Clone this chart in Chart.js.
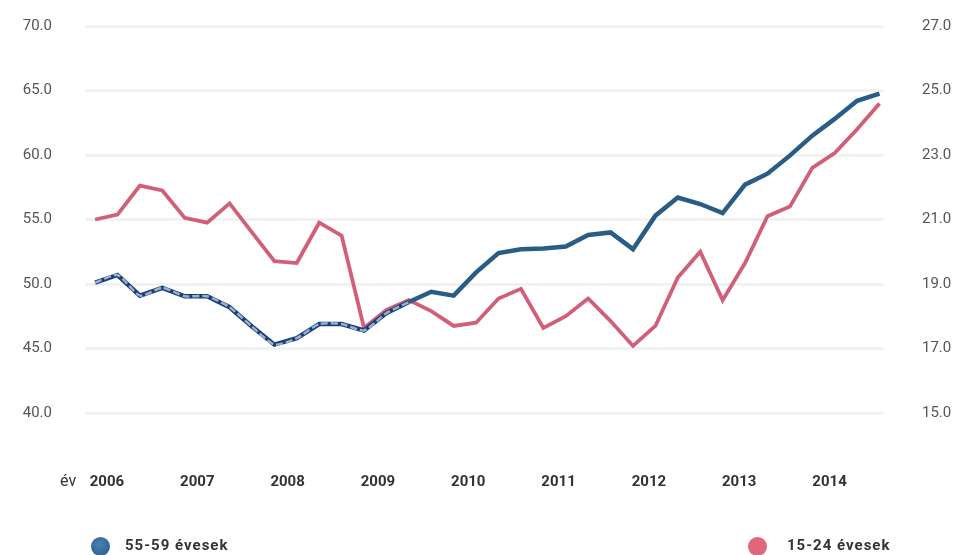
<!DOCTYPE html>
<html><head><meta charset="utf-8">
<script src="https://cdn.jsdelivr.net/npm/chart.js@4.4.1/dist/chart.umd.min.js"></script>
<style>
html,body{margin:0;padding:0;background:#fff;}
#wrap{position:relative;width:960px;height:555px;overflow:hidden;background:#fff;}
canvas{position:absolute;left:0;top:0;}
.lab{position:absolute;font-family:Roboto,'Liberation Sans',sans-serif;color:#333;white-space:nowrap;line-height:1;}
.dot{position:absolute;width:19px;height:19px;border-radius:50%;}
</style></head><body>
<div id="wrap">
<canvas id="c" width="960" height="555"></canvas>
<div class="lab" style="left:60px;top:473px;font-size:16px;">év</div>
<div class="dot" style="left:91px;top:537px;background:radial-gradient(circle at 45% 40%,#4a7fae,#245a8a);"></div>
<div class="lab" id="leg1" style="left:125px;top:538px;font-size:15px;font-weight:700;letter-spacing:1px;">55-59 évesek</div>
<div class="dot" style="left:748px;top:537px;background:#e0667c;"></div>
<div class="lab" id="leg2" style="left:787px;top:538px;font-size:15px;font-weight:700;letter-spacing:1px;">15-24 évesek</div>
</div>
<script>
// Quarterly data, 2006 Q1 .. 2014 Q4
const quarters = ["2006Q1","2006Q2","2006Q3","2006Q4","2007Q1","2007Q2","2007Q3","2007Q4","2008Q1","2008Q2","2008Q3","2008Q4","2009Q1","2009Q2","2009Q3","2009Q4","2010Q1","2010Q2","2010Q3","2010Q4","2011Q1","2011Q2","2011Q3","2011Q4","2012Q1","2012Q2","2012Q3","2012Q4","2013Q1","2013Q2","2013Q3","2013Q4","2014Q1","2014Q2","2014Q3","2014Q4"];
const age5559 = [50.1,50.7,49.1,49.7,49.05,49.05,48.2,46.7,45.3,45.8,46.9,46.9,46.4,47.75,48.6,49.4,49.1,50.9,52.4,52.7,52.75,52.9,53.8,54.0,52.7,55.3,56.7,56.2,55.5,57.7,58.55,59.95,61.5,62.8,64.2,64.75];
const age1524 = [21.0,21.15,22.05,21.9,21.05,20.9,21.5,20.6,19.71,19.65,20.9,20.5,17.64,18.2,18.5,18.16,17.7,17.8,18.55,18.85,17.64,18.0,18.55,17.85,17.08,17.7,19.2,20.0,18.5,19.65,21.1,21.4,22.6,23.06,23.8,24.6];
const yearLabels = ["2006","2007","2008","2009","2010","2011","2012","2013","2014"];
const leftTicks = [40,45,50,55,60,65,70];
const rightTicks = [15,17,19,21,23,25,27];
const dashedCount = 15;

const toXY = arr => arr.map((v,i)=>({x:i,y:v}));
const yearTickPos = yearLabels.map((_,k)=>k*4.03+0.53);

const tickFont = {family:"Roboto,sans-serif", size:15};
const yearFont = {family:"Roboto,sans-serif", size:15, weight:'bold'};

new Chart(document.getElementById('c'), {
  type:'line',
  data:{
    datasets:[
      {label:'overlay', data:toXY(age5559.slice(0,dashedCount)), yAxisID:'y', borderColor:'#a3afba', borderWidth:2.5, borderDash:[7,3], pointRadius:0, tension:0.2, fill:false},
      {label:'55-59 évesek', data:toXY(age5559), yAxisID:'y', borderColor:'#2a5d86', borderWidth:4.5, pointRadius:0, tension:0, fill:false,
        segment:{borderColor: ctx => ctx.p1DataIndex < dashedCount ? '#123f86' : '#2a5d86'}},
      {label:'15-24 évesek', data:toXY(age1524), yAxisID:'y1', borderColor:'#d25f78', borderWidth:3.8, pointRadius:0, tension:0, fill:false}
    ]
  },
  options:{
    responsive:false, animation:false, devicePixelRatio:1,
    layout:{padding:{top:26,left:0,right:0,bottom:0}},
    plugins:{legend:{display:false}, tooltip:{enabled:false}},
    scales:{
      x:{type:'linear', min:-0.45, max:35.2,
        afterBuildTicks: s => { s.ticks = yearTickPos.map(v=>({value:v})); },
        afterFit: s => { s.height = 142; },
        grid:{display:false, drawTicks:false}, border:{display:false},
        ticks:{autoSkip:false, maxRotation:0, padding:60, color:'#333', font:yearFont,
          callback:(v,i)=>yearLabels[i]}
      },
      y:{position:'left', min:40, max:70,
        afterBuildTicks: s => { s.ticks = leftTicks.map(v=>({value:v})); },
        afterFit: s => { s.width = 85; s.paddingTop = 0; s.paddingBottom = 0; },
        grid:{color:'rgba(0,0,0,0.05)', lineWidth:3, drawTicks:false}, border:{display:false},
        ticks:{padding:33, color:'#555', font:tickFont, callback:v=>Number(v).toFixed(1)}
      },
      y1:{position:'right', min:15, max:27,
        afterBuildTicks: s => { s.ticks = rightTicks.map(v=>({value:v})); },
        afterFit: s => { s.width = 76; s.paddingTop = 0; s.paddingBottom = 0; },
        grid:{drawOnChartArea:false, drawTicks:false}, border:{display:false},
        ticks:{padding:38, color:'#555', font:tickFont, callback:v=>Number(v).toFixed(1)}
      }
    }
  }
});
</script>
</body></html>
